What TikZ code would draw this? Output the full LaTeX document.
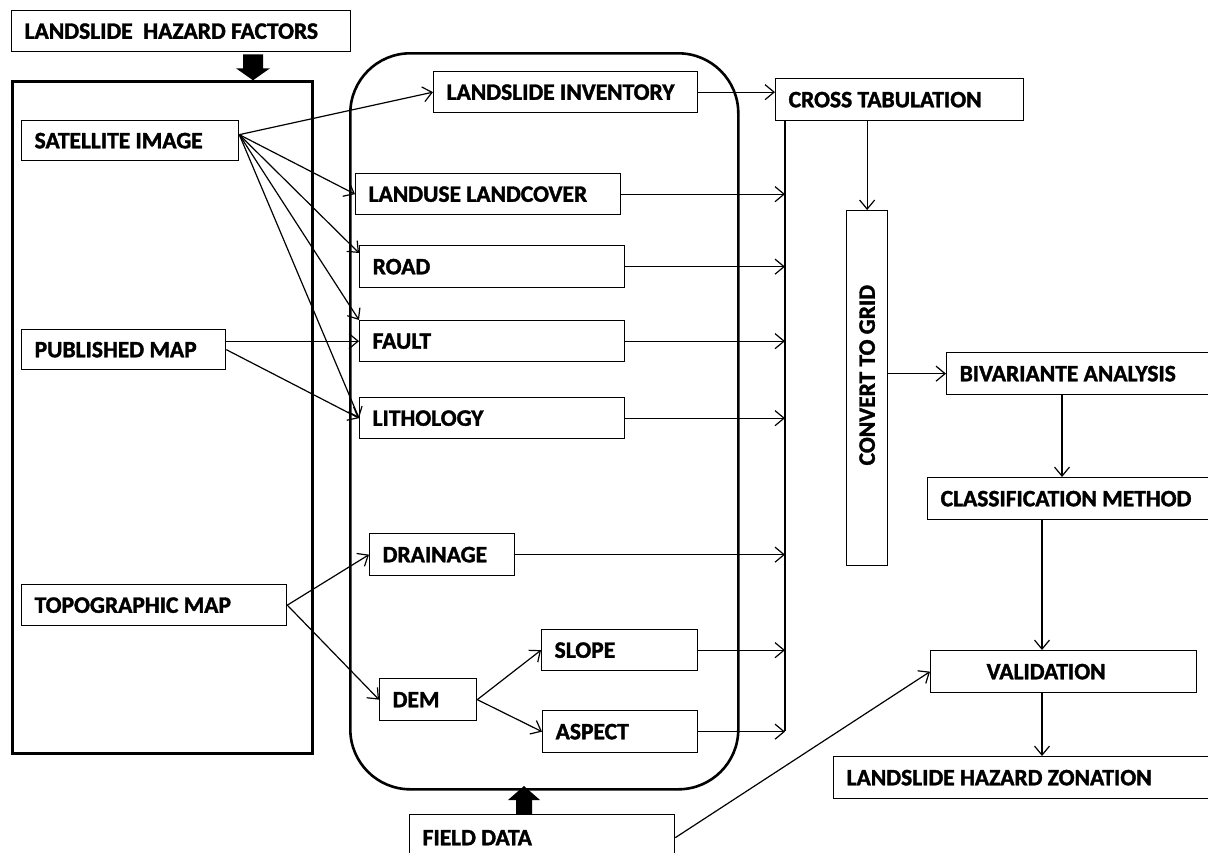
\documentclass[tikz,border=0pt]{standalone}
\usepackage{fontspec}
\setmainfont{Carlito}[BoldFeatures={FakeBold=1.6}]
\usetikzlibrary{arrows.meta}
\newcommand{\lbl}[2]{\hbox to #1{#2\hfil}}
\tikzset{
  box/.style={draw, line width=1.3pt, anchor=north west, inner xsep=13pt, inner ysep=0pt,
    minimum height=41pt, font=\fontsize{23.5}{26}\selectfont\bfseries},
  frame/.style={draw, line width=2.6pt, anchor=north west, inner sep=0pt},
  link/.style={line width=1.2pt, -{Straight Barb[length=9pt,width=15pt]}}
}

\begin{document}
\begin{tikzpicture}[x=1pt,y=-1pt]
  \useasboundingbox (0,0) rectangle (1208,852);

  % frames
  \node[frame, minimum width=300pt, minimum height=672pt] (srcframe) at (11,80) {};
  \node[frame, rounded corners=60pt, minimum width=388pt, minimum height=736pt] (procframe) at (349,52) {};

  % sources
  \node[box] (factors) at (11,10) {\lbl{313pt}{LANDSLIDE\ \ HAZARD FACTORS}};
  \node[box, minimum height=40pt] (sat) at (21,120) {\lbl{191pt}{SATELLITE IMAGE}};
  \node[box, minimum height=40pt] (pub) at (21,329) {\lbl{178pt}{PUBLISHED MAP}};
  \node[box] (topo) at (21,584) {\lbl{239pt}{TOPOGRAPHIC MAP}};

  % factor layers
  \node[box] (inv) at (433,71) {\lbl{238pt}{LANDSLIDE INVENTORY}};
  \node[box] (landuse) at (355,173) {\lbl{239pt}{LANDUSE LANDCOVER}};
  \node[box, minimum height=42pt] (road) at (359,245) {\lbl{239pt}{ROAD}};
  \node[box] (fault) at (359,320) {\lbl{239pt}{FAULT}};
  \node[box] (litho) at (359,397) {\lbl{239pt}{LITHOLOGY}};
  \node[box, minimum height=42pt] (drain) at (369,533) {\lbl{119pt}{DRAINAGE}};
  \node[box, minimum height=42pt] (dem) at (379,678) {\lbl{71pt}{DEM}};
  \node[box] (slope) at (541,629) {\lbl{130pt}{SLOPE}};
  \node[box, minimum height=42pt] (aspect) at (542,710) {\lbl{129pt}{ASPECT}};
  \node[box, minimum height=46pt] (field) at (409,814) {\lbl{239pt}{FIELD DATA}};

  % analysis
  \node[box, minimum height=42pt] (cross) at (775,78) {\lbl{222pt}{CROSS TABULATION}};
  \node[box, minimum width=41pt, minimum height=355pt, inner xsep=0pt] (grid) at (846,210) {};
  \node[rotate=90, font=\fontsize{23.5}{26}\selectfont\bfseries] (gridtext) at ([yshift=13pt]grid.center) {CONVERT TO GRID};
  \node[box, minimum height=42pt] (biv) at (946,352) {\lbl{254pt}{BIVARIANTE ANALYSIS}};
  \node[box, minimum height=42pt] (class) at (927,477) {\lbl{280pt}{CLASSIFICATION METHOD}};
  \node[box, minimum height=42pt] (valid) at (930,650) {\lbl{240pt}{\hspace*{43pt}VALIDATION}};
  \node[box, minimum height=42pt] (zone) at (833,756) {\lbl{370pt}{LANDSLIDE HAZARD ZONATION}};

  % block arrows
  \coordinate (fa) at (253,0 |- factors.south);
  \coordinate (fb) at (524,0 |- field.north);
  \fill[shift={(fa)}] (-10,2) -- (10,2) -- (10,16) -- (17,16) -- (0,28) -- (-17,16) -- (-10,16) -- cycle;
  \fill[shift={(fb)}] (-8,0) -- (8,0) -- (8,-14) -- (16,-14) -- (0,-28) -- (-16,-14) -- (-8,-14) -- cycle;

  % source links
  \coordinate (satout) at ([yshift=6pt]sat.east);
  \draw[link] (satout) -- (inv.west);
  \draw[link] (satout) -- (landuse.west);
  \draw[link] (satout) -- ([yshift=-8pt]road.north west);
  \draw[link] (satout) -- (fault.north west);
  \draw[link] (satout) -- (litho.west);
  \draw[link] (pub.east |- fault.west) -- (fault.west);
  \draw[link] (pub.east) -- (litho.west);
  \draw[link] (topo.east) -- (drain.west);
  \draw[link] (topo.east) -- (dem.west);
  \draw[link] (dem.east) -- (slope.west);
  \draw[link] (dem.east) -- (aspect.west);

  % collector
  \coordinate (coltop) at (785,0 |- cross.south);
  \coordinate (colbot) at (785,731);
  \draw[line width=1.3pt] (coltop) -- (colbot);
  \foreach \n in {landuse,road,fault,litho,drain,slope,aspect}
    \draw[link] (\n.east) -- (\n.east -| coltop);

  % analysis links
  \coordinate (xa) at (1062,0);
  \coordinate (xb) at (1042,0);
  \draw[link] (inv.east) -- (inv.east -| cross.west);
  \draw[link] (grid.north |- cross.south) -- (grid.north);
  \draw[link] (biv.west -| grid.east) -- (biv.west);
  \draw[link] (xa |- biv.south) -- (xa |- class.north);
  \draw[link] (xb |- class.south) -- (xb |- valid.north);
  \draw[link] (xb |- valid.south) -- (xb |- zone.north);
  \draw[link] (field.east) -- (valid.west);
\end{tikzpicture}
\end{document}
